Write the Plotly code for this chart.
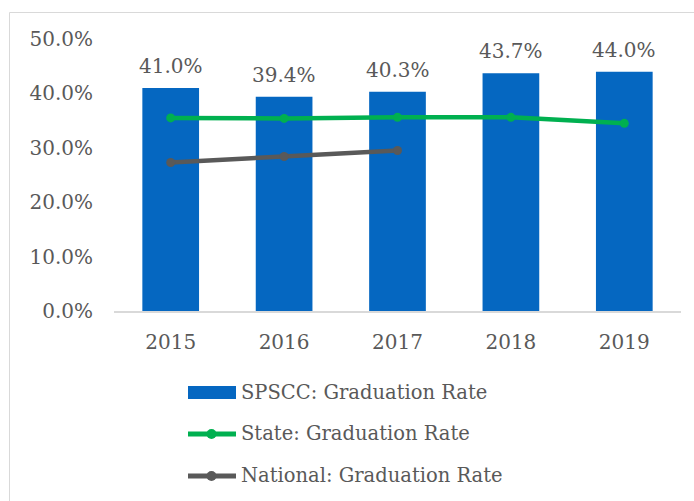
import plotly.graph_objects as go

years = ["2015", "2016", "2017", "2018", "2019"]
spscc_rate = [41.0, 39.4, 40.3, 43.7, 44.0]
state_rate = [35.5, 35.4, 35.6, 35.6, 34.5]
national_years = ["2015", "2016", "2017"]
national_rate = [27.3, 28.4, 29.5]
y_ticks = [0, 10, 20, 30, 40, 50]
y_tick_labels = ["0.0%", "10.0%", "20.0%", "30.0%", "40.0%", "50.0%"]
legend_names = ["SPSCC: Graduation Rate", "State: Graduation Rate", "National: Graduation Rate"]

BLUE = "#0567C1"
GREEN = "#00B050"
GRAY = "#595959"
TEXT = "#595959"
FONT = "DejaVu Serif"

W, H = 694, 501
L, R, T, B = 114, 13, 39, 190
pw, ph = W - L - R, H - T - B


def px(x):
    return (x - L) / pw


def py(y):
    return (H - B - y) / ph


fig = go.Figure()
fig.add_trace(go.Bar(x=years, y=spscc_rate, marker_color=BLUE, width=0.5,
                     name=legend_names[0], showlegend=False))
fig.add_trace(go.Scatter(x=years, y=state_rate, mode="lines+markers",
                         line=dict(color=GREEN, width=4.5), marker=dict(size=9, color=GREEN),
                         name=legend_names[1], showlegend=False))
fig.add_trace(go.Scatter(x=national_years, y=national_rate, mode="lines+markers",
                         line=dict(color=GRAY, width=4.5), marker=dict(size=9, color=GRAY),
                         name=legend_names[2], showlegend=False))

annotations = []
for i, v in enumerate(spscc_rate):
    annotations.append(dict(x=i, y=v, xref="x", yref="y", text=f"{v:.1f}%", showarrow=False,
                            yanchor="bottom", yshift=8,
                            font=dict(family=FONT, size=20, color=TEXT)))

shapes = []
# outer chart border
shapes.append(dict(type="rect", xref="paper", yref="paper",
                   x0=px(9.5), x1=px(720), y0=py(520), y1=py(12.5),
                   line=dict(color="#D9D9D9", width=1), fillcolor="rgba(0,0,0,0)"))

# custom legend
rows_y = [392.5, 434, 476]
sx0, sx1 = 188, 236
text_x = 239
shapes.append(dict(type="rect", xref="paper", yref="paper",
                   x0=px(sx0), x1=px(sx1), y0=py(rows_y[0] + 6.5), y1=py(rows_y[0] - 6.5),
                   line=dict(width=0), fillcolor=BLUE))
for yy, col in [(rows_y[1], GREEN), (rows_y[2], GRAY)]:
    shapes.append(dict(type="line", xref="paper", yref="paper",
                       x0=px(sx0), x1=px(sx1), y0=py(yy), y1=py(yy),
                       line=dict(color=col, width=5)))
    mx = (sx0 + sx1) / 2 - 0.5
    shapes.append(dict(type="circle", xref="paper", yref="paper",
                       x0=px(mx - 5), x1=px(mx + 5), y0=py(yy + 5), y1=py(yy - 5),
                       line=dict(width=0), fillcolor=col))
for name, yy in zip(legend_names, rows_y):
    annotations.append(dict(x=px(text_x), y=py(yy - 0.5), xref="paper", yref="paper",
                            text=name, showarrow=False, xanchor="left", yanchor="middle",
                            font=dict(family=FONT, size=19.5, color=TEXT)))

fig.update_layout(
    template="none",
    width=W, height=H,
    margin=dict(l=L, r=R, t=T, b=B, pad=0),
    paper_bgcolor="white", plot_bgcolor="white",
    font=dict(family=FONT, size=20, color=TEXT),
    bargap=0.5,
    showlegend=False,
    annotations=annotations,
    shapes=shapes,
    xaxis=dict(type="category", range=[-0.5, len(years) - 0.5], automargin=False,
               showline=True, linecolor="#D9D9D9",
               linewidth=1.5, showgrid=False, zeroline=False,
               ticks="", ticklabelstandoff=12, tickfont=dict(family=FONT, size=20, color=TEXT),
               fixedrange=True),
    yaxis=dict(range=[0, 50], automargin=False, tickvals=y_ticks, ticktext=y_tick_labels,
               showgrid=False, zeroline=False, showline=False, ticks="", ticklabelstandoff=20,
               tickfont=dict(family=FONT, size=20, color=TEXT), fixedrange=True),
)

fig.write_html("out.html", config={"displayModeBar": False},
               post_script="document.body.style.margin='0';document.body.style.padding='0';")
